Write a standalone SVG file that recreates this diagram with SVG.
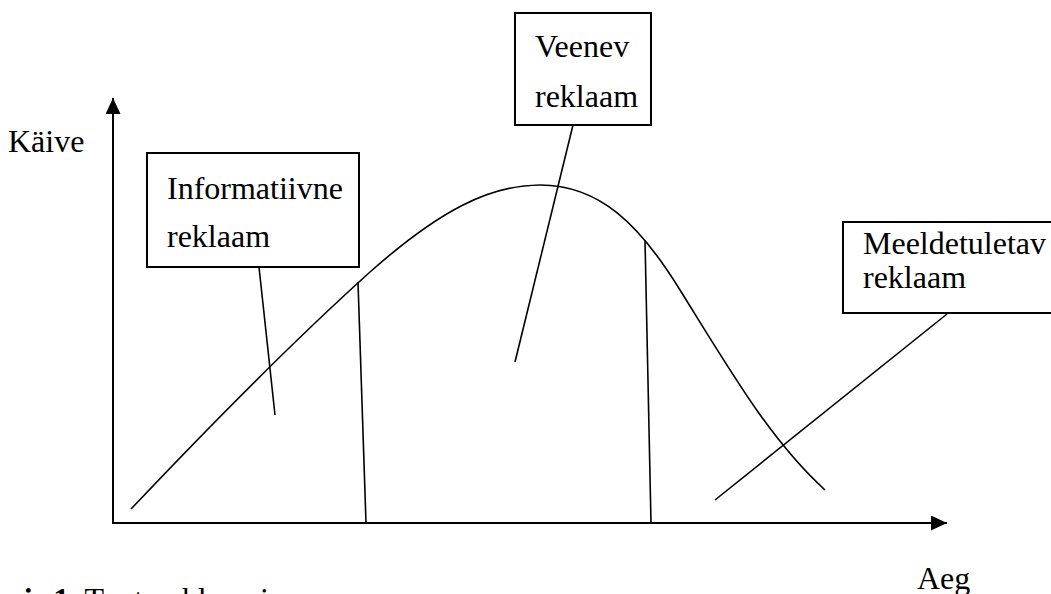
<svg xmlns="http://www.w3.org/2000/svg" width="1051" height="594" viewBox="0 0 1051 594">
<style>
.t{font-family:"Liberation Serif","Times New Roman",serif;font-size:32px;fill:#000}
.b{fill:#fff;stroke:#000;stroke-width:2}
.l{fill:none;stroke:#000;stroke-width:1.6}
.ax{fill:none;stroke:#000;stroke-width:2}
</style>
<defs>
<marker id="ah" viewBox="0 0 16 15" refX="16" refY="7.5" markerWidth="16" markerHeight="15" markerUnits="userSpaceOnUse" orient="auto">
<path d="M0,0 L16,7.5 L0,15 Z" fill="#000"/>
</marker>
</defs>
<g id="axes">
<line class="ax" x1="113" y1="523" x2="113" y2="98" marker-end="url(#ah)"/>
<line class="ax" x1="112" y1="523" x2="947" y2="523" marker-end="url(#ah)"/>
<text class="t" x="8" y="152">Käive</text>
<text class="t" x="917" y="589">Aeg</text>
</g>
<g id="curve">
<path class="l" d="M131,509 C220,415 300,335 370,272 C440,210 490,185 540,185 C600,185 640,225 680,290 C730,370 770,440 825,490"/>
</g>
<g id="connectors">
<line class="l" x1="358" y1="282" x2="366" y2="523"/>
<line class="l" x1="645" y1="240" x2="651" y2="523"/>
<line class="l" x1="259" y1="267" x2="275" y2="415"/>
<line class="l" x1="573" y1="125" x2="515" y2="362"/>
<line class="l" x1="947" y1="314" x2="715" y2="500"/>
</g>
<g id="informatiivne">
<rect class="b" x="147" y="153" width="212" height="114"/>
<text class="t" x="167" y="199">Informatiivne</text>
<text class="t" x="167" y="247">reklaam</text>
</g>
<g id="veenev">
<rect class="b" x="515" y="13" width="136" height="112"/>
<text class="t" x="535" y="57">Veenev</text>
<text class="t" x="535" y="107">reklaam</text>
</g>
<g id="meeldetuletav">
<rect class="b" x="843" y="222" width="212" height="91"/>
<text class="t" x="863" y="254">Meeldetuletav</text>
<text class="t" x="863" y="288">reklaam</text>
</g>
<g id="caption">
<text class="t" x="-42" y="610"><tspan font-weight="bold">Joonis 1.</tspan> Tootereklaami</text>
</g>
</svg>
